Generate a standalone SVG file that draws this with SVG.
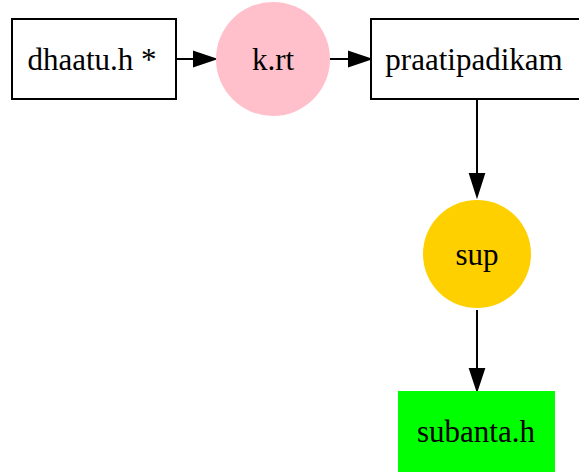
<svg xmlns="http://www.w3.org/2000/svg" width="579" height="475" viewBox="0 0 579 475">
<style>
.box{fill:#fff;stroke:#000;stroke-width:2}
.lbl{font-family:'Liberation Serif',serif;font-size:31px;fill:#000;text-anchor:middle}
.edge{stroke:#000;stroke-width:2;fill:none}
.head{fill:#000;stroke:#000;stroke-width:2}
</style>
<rect width="579" height="475" fill="#fff"/>
<g id="connectors">
<line class="edge" x1="176" y1="59" x2="194" y2="59"/>
<polygon class="head" points="194,52 215,59 194,66"/>
<line class="edge" x1="330" y1="59" x2="349" y2="59"/>
<polygon class="head" points="349,52 370,59 349,66"/>
<line class="edge" x1="477" y1="99" x2="477" y2="174"/>
<polygon class="head" points="470,174 477,196 484,174"/>
<line class="edge" x1="477" y1="310" x2="477" y2="369"/>
<polygon class="head" points="470,369 477,390 484,369"/>
</g>
<g id="dhaatu">
<rect class="box" x="12" y="19" width="164" height="80"/>
<text class="lbl" x="92" y="70">dhaatu.h *</text>
</g>
<g id="krt">
<circle cx="273" cy="59" r="57" fill="#ffc0cb"/>
<text class="lbl" x="273" y="70">k.rt</text>
</g>
<g id="praatipadikam">
<rect class="box" x="371" y="19" width="214" height="80"/>
<text class="lbl" x="474" y="70">praatipadikam</text>
</g>
<g id="sup">
<circle cx="477" cy="254" r="54" fill="#ffd000"/>
<text class="lbl" x="477" y="265">sup</text>
</g>
<g id="subanta">
<rect x="398" y="391" width="157" height="81" fill="#00ff00"/>
<text class="lbl" x="476" y="442">subanta.h</text>
</g>
</svg>
